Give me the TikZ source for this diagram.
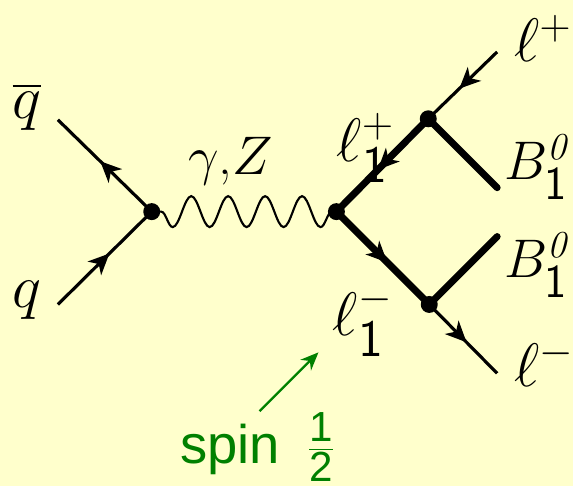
\RequirePackage{fix-cm}
\documentclass[tikz,border=0pt]{standalone}
\usepackage{amsmath}
\usepackage{fontspec}
\newfontfamily\spinfont{Liberation Sans}
\usepackage{tikz}
\usetikzlibrary{arrows.meta, decorations.pathmorphing, decorations.markings}
\definecolor{paper}{RGB}{255,255,204}
\definecolor{spingreen}{RGB}{0,128,0}
\newcommand{\sone}[1]{\mbox{\sffamily\fontsize{#1}{#1}\selectfont 1}}
\newcommand{\fnum}[1]{\mbox{\fontsize{24}{26}\selectfont #1}}

\begin{document}
\begin{tikzpicture}[
  font=\fontsize{35}{40}\selectfont,
  fermion/.style={line width=1.8pt, postaction={decorate},
    decoration={markings, mark=at position 0.55 with {\arrow{Stealth[length=0.42cm, width=0.38cm, inset=0.12cm]}}}},
  heavy/.style={fermion, line width=4pt},
  scalar/.style={line width=4pt, line cap=round},
  photon/.style={line width=1.2pt, decorate,
    decoration={snake, mirror, amplitude=0.31cm, segment length=0.74cm, pre length=0.19cm}},
  lbl/.style={inner sep=0pt, anchor=base west},
  small/.style={font=\fontsize{31}{36}\selectfont}
]
  % Background
  \fill[paper] (0,0) rectangle (11.48,9.74);

  % Vertices and free ends
  \coordinate (A) at (3.04,5.50);
  \coordinate (B) at (6.74,5.50);
  \coordinate (C) at (8.58,7.36);
  \coordinate (D) at (8.60,3.64);
  \coordinate (qbarend) at (1.16,7.34);
  \coordinate (qend) at (1.16,3.64);
  \coordinate (lpend) at (9.96,8.70);
  \coordinate (bupend) at (9.96,5.98);
  \coordinate (blowend) at (9.96,5.00);
  \coordinate (lmend) at (9.96,2.26);

  % Incoming quarks
  \draw[fermion] (qend) -- (A);
  \draw[fermion] (A) -- (qbarend);

  % Boson
  \draw[photon] (A) -- (B);

  % Heavy leptons
  \draw[heavy] (C) -- (B);
  \draw[heavy] (B) -- (D);

  % Decay products
  \draw[fermion] (lpend) -- (C);
  \draw[fermion] (D) -- (lmend);
  \draw[scalar] (C) -- (bupend);
  \draw[scalar] (D) -- (blowend);

  \foreach \v in {A,B,C,D}
    \fill (\v) circle (0.17);

  % Labels
  \node[lbl, anchor=base] (qbar) at (0.54,7.36) {$\overline{q}$};
  \node[lbl, anchor=base] (q) at (0.54,3.58) {$q$};
  \node[lbl, small, anchor=base] (boson) at (4.62,6.24) {$\gamma$,$Z$};
  \node[lbl] (lonep) at (6.74,6.50) {$\ell^{+}_{\sone{30}}$};
  \node[lbl] (lonem) at (6.66,3.02) {$\ell^{-}_{\sone{30}}$};
  \node[lbl] (lp) at (10.30,8.50) {$\ell^{+}$};
  \node[lbl, small] (bup) at (10.10,6.14) {$B^{\mathit{0}}_{\sone{27}}$};
  \node[lbl, small] (blow) at (10.10,4.18) {$B^{\mathit{0}}_{\sone{27}}$};
  \node[lbl] (lm) at (10.30,2.00) {$\ell^{-}$};

  % Spin note
  \node[lbl, spingreen, font=\spinfont\fontsize{31}{37}\selectfont] (spin) at (3.60,0.46)
    {spin\hspace{0.55cm}$\frac{\fnum{1}}{\fnum{2}}$};
  \coordinate (spintail) at (5.20,1.50);
  \coordinate (spintip) at (6.38,2.68);
  \draw[spingreen, line width=1.3pt, -{Stealth[length=0.36cm, width=0.3cm]}] (spintail) -- (spintip);
\end{tikzpicture}
\end{document}
